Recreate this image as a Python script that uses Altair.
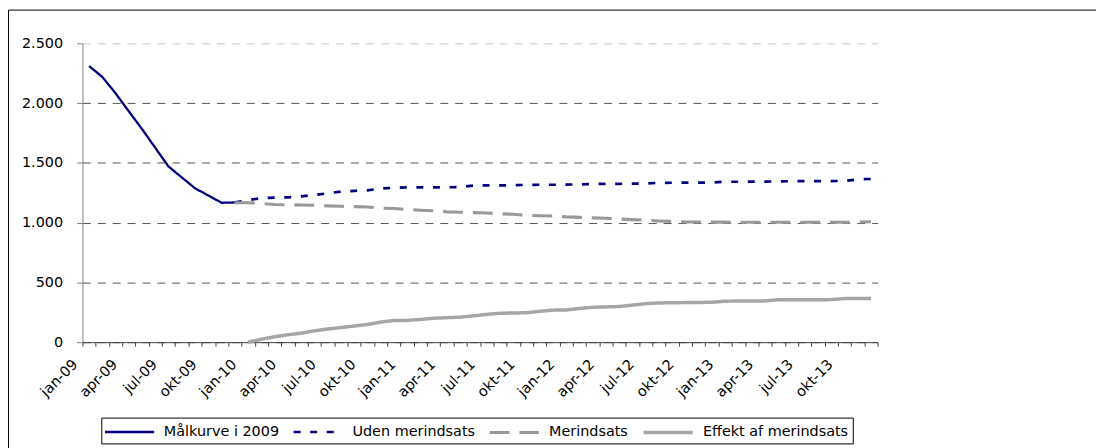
import altair as alt
import pandas as pd

# Categories (x axis): monthly from jan-09 to dec-13
month_names = ["jan", "feb", "mar", "apr", "maj", "jun", "jul", "aug", "sep", "okt", "nov", "dec"]
years = ["09", "10", "11", "12", "13"]
months = [f"{m}-{y}" for y in years for m in month_names]

series_names = ["Målkurve i 2009", "Uden merindsats", "Merindsats", "Effekt af merindsats"]

# Målkurve i 2009: jan-09 .. dec-09
malkurve = [2310, 2219, 2082, 1931, 1782, 1625, 1469, 1378, 1287, 1227, 1166, 1169]

# Uden merindsats: dec-09 .. dec-13
uden = [1170, 1188, 1205, 1210, 1212, 1220, 1232, 1245, 1260, 1266, 1270, 1285,
        1292, 1295, 1295, 1295, 1296, 1297, 1310, 1312, 1312, 1313, 1316, 1317,
        1317, 1318, 1320, 1324, 1325, 1325, 1326, 1327, 1333, 1334, 1335, 1335,
        1336, 1342, 1342, 1343, 1343, 1345, 1347, 1347, 1348, 1348, 1349, 1362,
        1365]

# Merindsats: dec-09 .. dec-13
merindsats = [1167, 1166, 1160, 1152, 1149, 1148, 1145, 1140, 1137, 1134, 1131, 1122,
              1118, 1110, 1104, 1100, 1090, 1087, 1084, 1080, 1074, 1070, 1062, 1058,
              1055, 1048, 1044, 1040, 1036, 1030, 1025, 1020, 1014, 1010, 1006, 1005,
              1004, 1004, 1003, 1003, 1003, 1003, 1003, 1003, 1003, 1003, 1003, 1005,
              1008]

# Effekt af merindsats: jan-10 .. dec-13
effekt = [0, 25, 45, 62, 75, 95, 110, 122, 135, 148, 168, 181,
          182, 190, 200, 205, 209, 220, 232, 242, 244, 246, 258, 268,
          269, 282, 292, 295, 298, 310, 322, 328, 330, 331, 332, 334,
          343, 344, 344, 345, 355, 355, 355, 355, 356, 365, 366, 366]

rows = []
for i, v in enumerate(malkurve):
    rows.append({"month": months[i], "value": v, "series": series_names[0], "o": 0})
for i, v in enumerate(uden):
    rows.append({"month": months[11 + i], "value": v, "series": series_names[1], "o": 1})
for i, v in enumerate(merindsats):
    rows.append({"month": months[11 + i], "value": v, "series": series_names[2], "o": 2})
for i, v in enumerate(effekt):
    rows.append({"month": months[12 + i], "value": v, "series": series_names[3], "o": 3})
df = pd.DataFrame(rows)

FONT = "DejaVu Sans"
FS = 14.5

legend = alt.Legend(
    orient="none", legendX=19, legendY=377, direction="horizontal", title=None,
    strokeColor="black", padding=4, symbolType="M-2.75,0H2.75", symbolSize=324,
    symbolOffset=14, labelFont=FONT, labelFontSize=FS, labelColor="black",
    columnPadding=8, labelOffset=24, gridAlign="none",
)

x = alt.X(
    "month:O", sort=months,
    scale=alt.Scale(type="band", domain=months, paddingInner=0, paddingOuter=0),
    axis=alt.Axis(
        title=None, tickBand="extent", labelAngle=-45, labelOverlap=False,
        labelExpr="indexof(['jan','apr','jul','okt'], slice(datum.label,0,3)) >= 0 ? datum.label : ''",
        tickSize=4, domainColor="#404040", tickColor="#404040", labelOffset=-19,
        labelPadding=11, grid=False,
    ),
)

y = alt.Y(
    "value:Q",
    scale=alt.Scale(domain=[0, 2500], nice=False),
    axis=alt.Axis(
        title=None, values=[0, 500, 1000, 1500, 2000, 2500], tickSize=6, labelPadding=14,
        domainColor="#808080", tickColor="#808080", grid=True, gridDash=[8, 7],
        gridColor={"condition": {"test": "datum.value === 2500", "value": "#c8c8c8"}, "value": "#555555"},
        labelExpr="replace(format(datum.value, ','), ',', '.')",
    ),
)

lines = alt.Chart(df).mark_line(clip=False).encode(
    x=x,
    y=y,
    order=alt.Order("o:Q"),
    color=alt.Color("series:N", sort=series_names,
                    scale=alt.Scale(domain=series_names, range=["#000080", "#000080", "#999999", "#a6a6a6"]),
                    legend=legend),
    strokeDash=alt.StrokeDash("series:N", sort=series_names,
                              scale=alt.Scale(domain=series_names, range=[[1, 0], [7, 9.7], [20, 10], [1, 0]]),
                              legend=legend),
    strokeWidth=alt.StrokeWidth("series:N", sort=series_names,
                                scale=alt.Scale(domain=series_names, range=[2.3, 3.5, 3.5, 2.7]),
                                legend=legend),
    detail="series:N",
)

border = alt.Chart(pd.DataFrame({"a": [0]})).mark_rect(
    filled=False, stroke="black", strokeWidth=1
).encode(
    x=alt.value(-74.5), x2=alt.value(1060), y=alt.value(-33.5), y2=alt.value(460)
)

chart = alt.layer(border, lines).properties(
    width=801, height=301,
    padding={"left": 75, "top": 34, "right": 220, "bottom": 105},
    autosize=alt.AutoSizeParams(type="none"),
).configure_view(stroke=None).configure_axis(
    labelFont=FONT, labelFontSize=FS, labelColor="black"
)

chart.save("out.html", embed_options={"renderer": "svg", "actions": False})
